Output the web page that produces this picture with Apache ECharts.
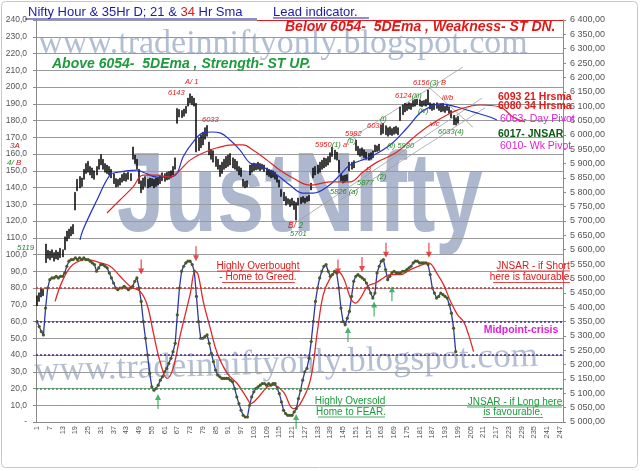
<!DOCTYPE html>
<html><head><meta charset="utf-8">
<script src="https://cdn.jsdelivr.net/npm/echarts@6/dist/echarts.min.js"></script>
<style>html,body{margin:0;padding:0;background:#fff}#c{width:640px;height:471px}</style>
</head><body><div id="c"></div>
<script>
// ---------- DATA ----------
const categories = [];
for (let i = 1; i <= 248; i++) categories.push(String(i));

const priceLow = [
5405,5420,5435,5440,5555,5570,5565,5572,5560,5568,
5565,5572,5575,5600,5630,5640,5648,5655,5738,5805,
5815,5820,5845,5865,5870,5860,5850,5845,5860,5880,
5895,5880,5870,5865,5860,5850,5830,5818,5820,5825,
5835,5840,5838,5845,5840,5915,5900,5880,5830,5798,
5810,5820,5815,5818,5822,5815,5820,5825,5830,5840,
5838,5843,5845,5850,5860,5880,6040,6062,6060,6065,
6075,6100,6110,6105,6100,5940,5945,5955,5965,5985,
5995,5930,5915,5905,5890,5880,5855,5865,5880,5885,
5890,5895,5885,5880,5875,5860,5855,5820,5815,5818,
5860,5870,5875,5878,5880,5875,5880,5872,5860,5855,
5850,5852,5845,5835,5818,5785,5770,5755,5760,5750,
5755,5740,5703,5755,5760,5765,5762,5768,5770,5808,
5850,5860,5865,5870,5880,5885,5890,5895,5905,5925,
5915,5912,5868,5840,5832,5835,5840,5875,5880,5885,
5945,5930,5925,5928,5920,5915,5912,5915,5920,5940,
5942,5945,6000,6005,6000,5995,6000,5998,6002,6005,
6000,6050,6070,6080,6085,6090,6088,6098,6100,6105,
6100,6098,6102,6100,6104,6090,6085,6088,6092,6085,
6080,6082,6078,6085,6075,6060,6035,6034,6040];
const priceHigh = [
5440,5450,5465,5462,5620,5598,5595,5600,5590,5598,
5592,5605,5600,5645,5665,5672,5680,5688,5800,5845,
5855,5850,5880,5900,5908,5890,5885,5875,5890,5915,
5932,5915,5900,5895,5890,5880,5865,5848,5845,5850,
5862,5868,5865,5870,5865,5958,5930,5915,5880,5840,
5850,5855,5845,5850,5848,5845,5850,5852,5860,5868,
5865,5870,5872,5875,5890,5920,6092,6088,6085,6090,
6100,6128,6143,6135,6128,6110,5990,6000,6010,6025,
6033,5975,5950,5945,5925,5915,5895,5905,5915,5925,
5930,5935,5920,5915,5908,5890,5885,5845,5838,5840,
5895,5900,5902,5900,5905,5900,5898,5895,5885,5880,
5878,5875,5870,5860,5843,5810,5800,5785,5778,5775,
5780,5770,5765,5780,5782,5785,5780,5785,5790,5832,
5885,5890,5895,5905,5912,5920,5918,5925,5938,5958,
5947,5940,5912,5865,5858,5860,5862,5905,5905,5910,
5982,5960,5952,5955,5948,5940,5935,5938,5945,5965,
5962,5968,6035,6040,6032,6025,6028,6022,6027,6030,
6025,6097,6105,6110,6108,6112,6110,6120,6124,6125,
6122,6118,6120,6124,6156,6112,6108,6110,6112,6105,
6108,6110,6100,6105,6098,6085,6068,6060,6065];

const oscFast = [
60,57,54,52,68,80,85,86,86,87,
86,87,87,89,93,96,97,97,98,97,
98,97,98,97,97,96,95,94,90,92,
94,94,93,92,89,86,83,80,79,80,
80,81,80,79,80,81,84,86,80,72,
60,50,40,29,21,19,20,22,25,27,
30,32,35,38,42,47,64,80,90,93,
95,96,96,94,90,75,60,50,50,51,
52,47,41,36,31,28,27,26,26,26,
26,25,24,20,15,11,7,4,3,3,
10,15,18,20,21,22,23,23,22,23,
22,23,23,20,17,12,7,5,4,4,
4,6,8,14,19,25,30,32,38,48,
60,72,80,86,90,93,94,90,87,88,
90,89,80,68,60,58,62,66,75,84,
87,88,87,86,85,83,80,77,74,77,
89,93,96,97,91,85,87,89,90,89,
89,89,90,90,91,92,93,95,96,96,
95,95,95,95,94,88,80,77,74,75,
77,76,75,74,70,65,56,42];

const oscSlow = [[9.5,72],[13.2,85],[17.9,94],[24.5,97],[30.7,95],[35.4,93],[40.1,87],[44.8,81],[49.5,78],[52.8,70],[55.6,54],[58.9,36],[62.2,26],[65,32],[68.4,52],[73,76],[75.4,90],[76.8,88],[79.2,72],[82.5,56],[85.8,41],[90.5,29],[95.2,23],[99.9,14],[101.5,11],[104.6,14],[109.4,21],[112.2,22],[116.9,18],[121.6,8],[124.9,11],[129.6,25],[132.9,54],[135.7,76],[139,86],[142.3,90],[145.2,86],[148.5,74],[150.8,71],[153.2,74],[156.5,81],[160.3,83],[164,86],[167.3,88],[172,88],[176.7,91],[182.4,94],[185.2,95],[189.5,88],[192.3,82],[195.6,72],[198.9,64],[201.7,60],[204.1,52],[206.4,42]];

const sma21 = [[21.2,5634],[22.6,5669],[29.2,5773],[35.3,5860],[39.1,5870],[48,5877],[51.8,5867],[57.4,5853],[63.6,5853],[66.9,5867],[69.7,5923],[74.4,5975],[79.1,6007],[83.3,6010],[87.1,6007],[91.8,5982],[96.5,5947],[101.2,5902],[107.3,5888],[113.9,5860],[120,5825],[126.1,5797],[130.9,5797],[137.4,5818],[143.6,5860],[148.3,5895],[157.7,5923],[167.1,5965],[175.1,6024],[181.2,6076],[185.9,6097],[190.6,6108],[198.6,6097],[206.1,6080],[214.1,6062],[217.4,6052]];

const sma34 = [[33.9,5728],[40,5773],[46.1,5818],[50.9,5860],[57.4,5860],[63.6,5853],[67.3,5870],[73,5912],[79.1,5937],[85.7,5955],[93.2,5965],[97.9,5965],[102.6,5947],[109.2,5912],[115.3,5877],[121.4,5850],[129.4,5825],[138.9,5836],[148.3,5836],[154.4,5871],[161,5905],[170.4,5940],[177.9,5989],[185.9,6034],[193.9,6069],[201.4,6093],[209.4,6104],[218.9,6097],[225,6062],[230.6,6045]];

const trendUpper = [[147.3,5982],[201.4,6236]];
const trendLow1 = [[123.3,5697],[210.4,6128]];
const trendLow2 = [[143.6,5773],[211.8,6094]];
const trendDown = [[185.9,6163],[206.1,6027]];

const levelLines = [80, 60, 40, 20];
const redArrowTips = [[50,88],[75.8,96],[142.6,88],[153.9,89.5],[165.2,98],[185.4,98]];
const greenArrowTips = [[57.9,16.7],[122.9,4.8],[147.3,56.7],[159.6,72],[168,81]];

// ---------- CHART ----------
const FF = '"Liberation Sans", Arial, sans-serif';
const RED = '#e01818', GRN = '#1c9a3c', BLU = '#1c1ca0', MAG = '#e020d8', DGRN = '#0c5c14';

const candle = priceLow.map((l, i) => [l, priceHigh[i], l, priceHigh[i]]);

function fmtLeft(v){ return v === 0 ? '-' : v.toFixed(1).replace('.', ','); }
function fmtRight(v){
  const s = v.toFixed(2).split('.');
  return s[0].replace(/\B(?=(\d{3})+(?!\d))/g, ' ') + ',' + s[1];
}

function T(x, y, text, fill, font, align){
  return {type:'text', x:x, y:y, z:100,
    style:{text:text, fill:fill, font:font, align:align||'left', verticalAlign:'middle'}};
}
function R(x, y, text, font){
  const f = font || ('italic 7.5px ' + FF);
  return {type:'text', x:x, y:y, z:100, style:{text:text, font:f, align:'left', verticalAlign:'middle',
    rich:{r:{fill:RED, font:f}, g:{fill:'#2a8a2a', font:f}, d:{fill:'#b02020', font:f}}}};
}
function L(x1, y1, x2, y2, color, w){
  return {type:'line', z:100, shape:{x1:x1,y1:y1,x2:x2,y2:y2}, style:{stroke:color, lineWidth:w||1}};
}

const graphics = [
  {type:'rect', z:-2, shape:{x:1.5,y:1.5,width:636,height:466,r:4}, style:{fill:'#fff', stroke:'#c8c8c8', lineWidth:1}},
  // watermarks
  {type:'text', z:-1, x:283, y:44, style:{text:'www.tradeinniftyonly.blogspot.com', fill:'#b4bed2', font:'34px "Liberation Serif", "Times New Roman", serif', align:'center', verticalAlign:'middle'}},
  {type:'text', z:-1, x:286, y:364, rotation:0.03, style:{text:'www.tradeinniftyonly.blogspot.com', fill:'#b4bed2', font:'35px "Liberation Serif", "Times New Roman", serif', align:'center', verticalAlign:'middle'}},
  {type:'text', z:-1, x:300, y:200, scaleX:0.75, style:{text:'JustNifty', fill:'#adb8cf', font:'bold 114px ' + FF, align:'center', verticalAlign:'middle'}},
  // title line
  {type:'text', x:28, y:12.5, z:100, style:{text:'{b|Nifty Hour & 35Hr D; 21 & }{r|34}{b| Hr Sma}', font:'13px ' + FF, align:'left', verticalAlign:'middle',
    rich:{b:{fill:BLU, font:'13px ' + FF}, r:{fill:RED, font:'13px ' + FF}}}},
  T(273, 12.5, 'Lead indicator.', BLU, '13px ' + FF),
  L(25, 19, 257, 19, BLU, 1.2),
  L(273, 18, 369, 18, BLU, 1),
  L(257, 20.5, 563, 20.5, RED, 1.2),
  T(285, 27.5, 'Below 6054-  5DEma , Weakness- ST DN.', RED, 'italic bold 14px ' + FF),
  T(52, 64, 'Above 6054-  5DEma , Strength- ST UP.', GRN, 'italic bold 14px ' + FF),
  // right side labels
  T(498, 97.5, '6093 21 Hrsma', RED, 'bold 10.5px ' + FF),
  T(498, 106.5, '6080 34 Hrsma', RED, 'bold 10.5px ' + FF),
  T(500, 119, '6063- Day Pivot', MAG, '10.5px ' + FF),
  T(498, 134, '6017- JNSAR', DGRN, 'bold 10.5px ' + FF),
  T(500, 146, '6010- Wk Pivot', MAG, '10.5px ' + FF),
  // oscillator notes
  T(258, 266, 'Highly Overbought', RED, '10px ' + FF, 'center'),
  T(258, 277.5, '- Home to Greed.', RED, '10px ' + FF, 'center'),
  L(217, 271, 300, 271, RED, 0.8), L(222, 282.5, 295, 282.5, RED, 0.8),
  T(533, 266, 'JNSAR - if Short', RED, '10px ' + FF, 'center'),
  T(531, 277.5, 'here is favourable.', RED, '10px ' + FF, 'center'),
  L(497, 271, 570, 271, RED, 0.8), L(493, 282.5, 570, 282.5, RED, 0.8),
  T(521, 330, 'Midpoint-crisis', MAG, 'bold 10.5px ' + FF, 'center'),
  T(350, 401, 'Highly Oversold', GRN, '10px ' + FF, 'center'),
  T(351, 412, 'Home to FEAR.', GRN, '10px ' + FF, 'center'),
  L(316, 406, 385, 406, GRN, 0.8), L(318, 417, 385, 417, GRN, 0.8),
  T(515, 402, 'JNSAR - if Long here', GRN, '10px ' + FF, 'center'),
  T(513, 412.5, 'is favourable.', GRN, '10px ' + FF, 'center'),
  L(467, 407, 562, 407, GRN, 0.8), L(483, 417.5, 543, 417.5, GRN, 0.8),
  // price wave labels
  R(185, 82, '{r|A/ 1}'),
  R(168, 92.5, '{r|6143}'),
  R(202, 119.5, '{r|6033}'),
  R(288, 225.5, '{r|B/}{g| 2}', 'italic 8.5px ' + FF),
  R(290, 234, '{g|5701}'),
  R(315, 145, '{r|5950}{g|(1)}{r| a}'),
  R(345, 134, '{r|5982}'),
  R(347, 141, '{g|(b)}'),
  R(367, 125.5, '{r|6032}'),
  R(380, 119, '{g|(i)}'),
  R(387, 145.5, '{g|(ii) 5980}'),
  R(395, 95.5, '{r|6124}{g|(iii)}'),
  R(413, 82.5, '{r|6156}{g|(3)}{r| B}'),
  R(442, 97.5, '{r|iii/b}'),
  R(418, 110.5, '{g|(iv)}'),
  R(430, 124, '{r|v/c}'),
  R(438, 132, '{g|6033(4)}'),
  R(366, 170, '{r|B}'),
  R(377, 177, '{g|(2)}'),
  R(357, 182.5, '{g|5877}'),
  R(330, 192, '{g|5826 (a)}'),
  R(10, 145.5, '{d|3A}', 'italic 8px ' + FF),
  R(7, 162.5, '{g|4/ }{r|B}', 'italic 8px ' + FF),
  R(17, 247.5, '{g|5119}', 'italic 8px ' + FF)
];

const chart = echarts.init(document.getElementById('c'));
chart.setOption({
  backgroundColor: '#ffffff',
  animation: false,
  textStyle: {fontFamily: FF},
  grid: {left: 36, right: 77, top: 20, bottom: 49},
  xAxis: [
    {type: 'category', data: categories, boundaryGap: true,
     axisLine: {lineStyle: {color: '#8a8a8a'}},
     axisTick: {interval: 0, length: 3, lineStyle: {color: '#8a8a8a'}},
     axisLabel: {interval: function (i) { return i % 6 === 0; }, rotate: 90, fontSize: 7.5, color: '#555', margin: 4, hideOverlap: false},
     splitLine: {show: false}},
    {type: 'value', min: 0.5, max: 248.5, show: false}
  ],
  yAxis: [
    {type: 'value', min: 0, max: 240, interval: 10, position: 'left',
     axisLine: {show: true, lineStyle: {color: '#8a8a8a'}},
     axisTick: {show: true, length: 3, lineStyle: {color: '#8a8a8a'}},
     axisLabel: {formatter: fmtLeft, fontSize: 8.5, color: '#555', margin: 9},
     splitLine: {show: true, lineStyle: {color: '#9a9a9a', width: 1}}},
    {type: 'value', min: 5000, max: 6400, interval: 50, position: 'right',
     axisLine: {show: true, lineStyle: {color: '#8a8a8a'}},
     axisTick: {show: true, length: 3, lineStyle: {color: '#8a8a8a'}},
     axisLabel: {formatter: fmtRight, fontSize: 9, color: '#555', margin: 7},
     splitLine: {show: false}}
  ],
  series: [
    {type: 'candlestick', name: 'Nifty Hour', xAxisIndex: 0, yAxisIndex: 1, data: candle, barWidth: 1.5, z: 3,
     itemStyle: {color: '#000', color0: '#000', borderColor: '#000', borderColor0: '#000', borderWidth: 0.5}},
    {type: 'line', name: '21 Hr Sma', xAxisIndex: 1, yAxisIndex: 1, data: sma21, smooth: 0.4, showSymbol: false, z: 4,
     lineStyle: {color: '#2433c8', width: 1.2}},
    {type: 'line', name: '34 Hr Sma', xAxisIndex: 1, yAxisIndex: 1, data: sma34, smooth: 0.4, showSymbol: false, z: 4,
     lineStyle: {color: '#e02424', width: 1.2}},
    {type: 'line', xAxisIndex: 1, yAxisIndex: 1, data: trendUpper, showSymbol: false, z: 2, lineStyle: {color: '#a0a0a0', width: 0.8}},
    {type: 'line', xAxisIndex: 1, yAxisIndex: 1, data: trendLow1, showSymbol: false, z: 2, lineStyle: {color: '#a0a0a0', width: 0.8}},
    {type: 'line', xAxisIndex: 1, yAxisIndex: 1, data: trendLow2, showSymbol: false, z: 2, lineStyle: {color: '#a0a0a0', width: 0.8}},
    {type: 'line', xAxisIndex: 1, yAxisIndex: 1, data: trendDown, showSymbol: false, z: 2, lineStyle: {color: '#a0a0a0', width: 0.8}},
    {type: 'line', name: 'Osc fast', xAxisIndex: 0, yAxisIndex: 0, data: oscFast, showSymbol: true, showAllSymbol: true,
     symbol: 'circle', symbolSize: 3.2, z: 4,
     lineStyle: {color: '#2b3aa0', width: 1.3}, itemStyle: {color: '#4a5a26'},
     markLine: {silent: true, symbol: 'none', label: {show: false},
       data: levelLines.map((v, i) => ({yAxis: v, lineStyle: {color: ['#e02828', '#4a2a86', '#4a2a86', '#22a04a'][i], type: [2, 2], width: 1.6}}))}},
    {type: 'line', name: 'Osc slow', xAxisIndex: 1, yAxisIndex: 0, data: oscSlow, smooth: 0.4, showSymbol: false, z: 4,
     lineStyle: {color: '#e02828', width: 1.3}},
    {type: 'scatter', xAxisIndex: 1, yAxisIndex: 0, data: redArrowTips, z: 6,
     symbol: 'path://M4,0L6,0L6,12L10,12L5,20L0,12L4,12Z', symbolSize: [6, 15], symbolOffset: [0, -7.5],
     itemStyle: {color: '#e81818'}},
    {type: 'scatter', xAxisIndex: 1, yAxisIndex: 0, data: greenArrowTips, z: 6,
     symbol: 'path://M5,0L10,8L6,8L6,20L4,20L4,8L0,8Z', symbolSize: [6, 15], symbolOffset: [0, 7.5],
     itemStyle: {color: '#1aa048'}}
  ],
  graphic: {elements: graphics}
});
</script>
</body></html>
